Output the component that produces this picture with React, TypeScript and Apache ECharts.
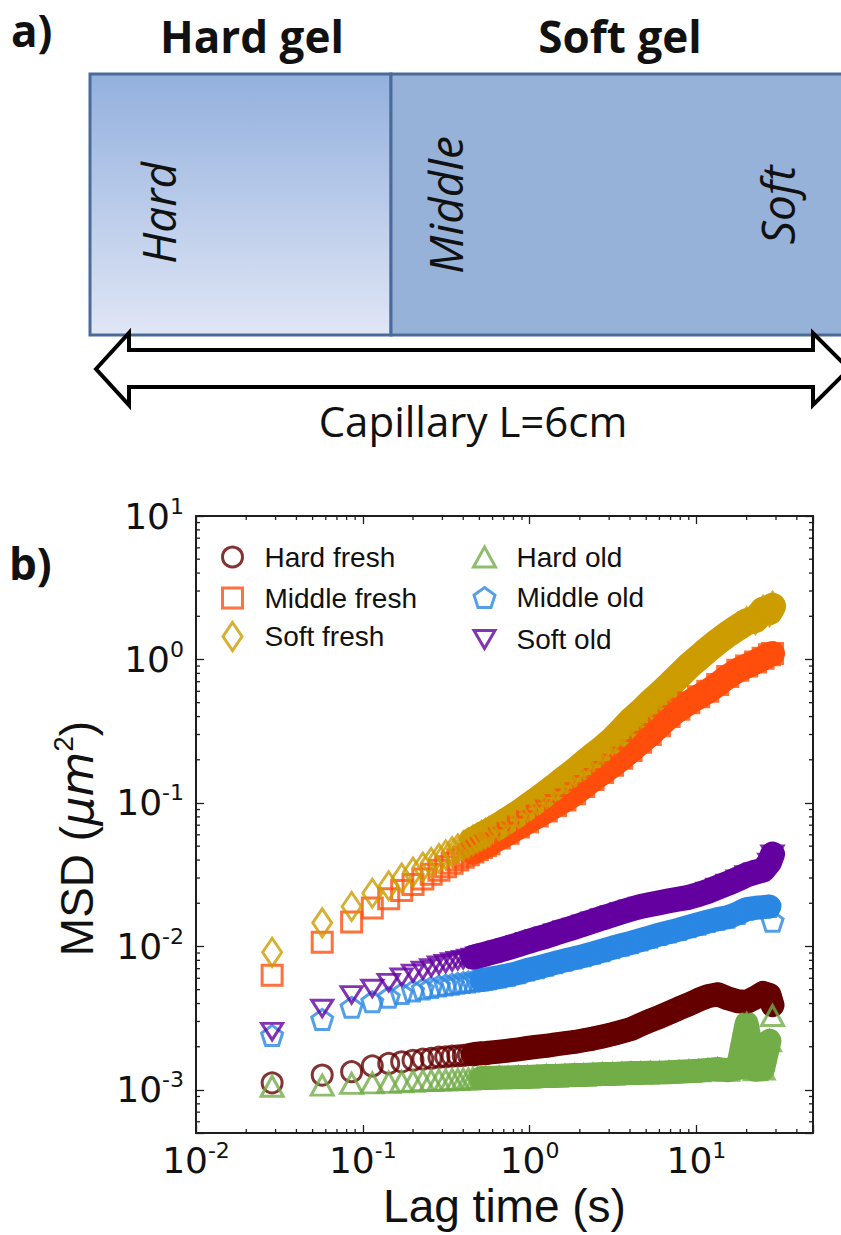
import React, { useEffect, useRef } from "react";
import * as echarts from "echarts";

// Lag times (s) shared by every sample
const lagTime = [
  0.0286, 0.0571, 0.0857, 0.114, 0.143, 0.171, 0.2, 0.229, 0.257, 0.286,
  0.314, 0.343, 0.371, 0.4, 0.429, 0.457, 0.486, 0.514, 0.543, 0.571,
  0.657, 0.743, 0.857, 0.971, 1.11, 1.26, 1.43, 1.63, 1.86, 2.11,
  2.4, 2.74, 3.14, 3.57, 4.06, 4.63, 5.29, 6.0, 6.86, 7.86,
  9.0, 10.3, 11.7, 13.4, 15.4, 17.7, 20.0, 22.6, 25.1, 27.4, 28.6,
];

// MSD (µm²) per sample
const hardFresh = [
  1.12e-3, 1.27e-3, 1.34e-3, 1.47e-3, 1.53e-3, 1.57e-3, 1.61e-3, 1.64e-3, 1.66e-3, 1.69e-3,
  1.7e-3, 1.72e-3, 1.73e-3, 1.74e-3, 1.76e-3, 1.77e-3, 1.79e-3, 1.8e-3, 1.8e-3, 1.82e-3,
  1.85e-3, 1.88e-3, 1.92e-3, 1.96e-3, 2.0e-3, 2.03e-3, 2.08e-3, 2.12e-3, 2.16e-3, 2.22e-3,
  2.28e-3, 2.36e-3, 2.45e-3, 2.55e-3, 2.66e-3, 2.85e-3, 3.05e-3, 3.22e-3, 3.45e-3, 3.7e-3,
  3.95e-3, 4.25e-3, 4.5e-3, 4.65e-3, 4.35e-3, 4.15e-3, 4.1e-3, 4.4e-3, 4.75e-3, 4.6e-3, 3.9e-3,
];
const middleFresh = [
  6.3e-3, 1.07e-2, 1.48e-2, 1.85e-2, 2.15e-2, 2.45e-2, 2.7e-2, 2.95e-2, 3.18e-2, 3.4e-2,
  3.6e-2, 3.8e-2, 4.0e-2, 4.18e-2, 4.36e-2, 4.55e-2, 4.72e-2, 4.9e-2, 5.05e-2, 5.2e-2,
  5.7e-2, 6.15e-2, 6.8e-2, 7.4e-2, 8.1e-2, 8.8e-2, 9.6e-2, 0.105, 0.116, 0.13,
  0.146, 0.163, 0.183, 0.205, 0.232, 0.265, 0.3, 0.345, 0.4, 0.45,
  0.5, 0.55, 0.6, 0.67, 0.76, 0.84, 0.9, 0.96, 1.02, 1.08, 1.1,
];
const softFresh = [
  9.1e-3, 1.46e-2, 1.9e-2, 2.35e-2, 2.65e-2, 3.0e-2, 3.3e-2, 3.58e-2, 3.85e-2, 4.1e-2,
  4.35e-2, 4.58e-2, 4.8e-2, 5.02e-2, 5.25e-2, 5.48e-2, 5.7e-2, 5.92e-2, 6.12e-2, 6.32e-2,
  6.95e-2, 7.6e-2, 8.45e-2, 9.4e-2, 0.105, 0.117, 0.131, 0.148, 0.166, 0.188,
  0.212, 0.24, 0.275, 0.32, 0.375, 0.43, 0.5, 0.57, 0.66, 0.77,
  0.9, 1.03, 1.17, 1.33, 1.5, 1.67, 1.83, 1.9, 2.2, 2.15, 2.35,
];
const hardOld = [
  1.06e-3, 1.08e-3, 1.11e-3, 1.12e-3, 1.13e-3, 1.14e-3, 1.15e-3, 1.16e-3, 1.16e-3, 1.17e-3,
  1.17e-3, 1.18e-3, 1.18e-3, 1.19e-3, 1.19e-3, 1.2e-3, 1.2e-3, 1.21e-3, 1.21e-3, 1.21e-3,
  1.22e-3, 1.22e-3, 1.23e-3, 1.23e-3, 1.24e-3, 1.25e-3, 1.25e-3, 1.26e-3, 1.27e-3, 1.27e-3,
  1.28e-3, 1.29e-3, 1.29e-3, 1.3e-3, 1.31e-3, 1.31e-3, 1.32e-3, 1.32e-3, 1.33e-3, 1.34e-3,
  1.35e-3, 1.36e-3, 1.38e-3, 1.4e-3, 1.37e-3, 1.42e-3, 2.9e-3, 1.38e-3, 1.4e-3, 2.2e-3, 3.3e-3,
];
const middleOld = [
  2.4e-3, 3.1e-3, 3.77e-3, 4.12e-3, 4.42e-3, 4.7e-3, 4.9e-3, 5.05e-3, 5.18e-3, 5.3e-3,
  5.38e-3, 5.46e-3, 5.53e-3, 5.6e-3, 5.66e-3, 5.72e-3, 5.78e-3, 5.84e-3, 5.9e-3, 5.95e-3,
  6.12e-3, 6.3e-3, 6.55e-3, 6.85e-3, 7.1e-3, 7.4e-3, 7.7e-3, 8.0e-3, 8.3e-3, 8.6e-3,
  8.95e-3, 9.35e-3, 9.8e-3, 1.02e-2, 1.06e-2, 1.11e-2, 1.16e-2, 1.21e-2, 1.26e-2, 1.31e-2,
  1.37e-2, 1.43e-2, 1.49e-2, 1.55e-2, 1.6e-2, 1.7e-2, 1.82e-2, 1.86e-2, 1.88e-2, 1.9e-2, 1.5e-2,
];
const softOld = [
  2.55e-3, 3.7e-3, 4.6e-3, 5.1e-3, 5.6e-3, 6.1e-3, 6.5e-3, 6.8e-3, 7.1e-3, 7.4e-3,
  7.6e-3, 7.8e-3, 7.95e-3, 8.1e-3, 8.25e-3, 8.4e-3, 8.55e-3, 8.7e-3, 8.85e-3, 9.0e-3,
  9.4e-3, 9.8e-3, 1.03e-2, 1.08e-2, 1.13e-2, 1.18e-2, 1.24e-2, 1.3e-2, 1.36e-2, 1.43e-2,
  1.5e-2, 1.58e-2, 1.66e-2, 1.74e-2, 1.82e-2, 1.9e-2, 1.96e-2, 2.02e-2, 2.08e-2, 2.14e-2,
  2.2e-2, 2.3e-2, 2.42e-2, 2.58e-2, 2.75e-2, 2.95e-2, 3.15e-2, 3.3e-2, 3.4e-2, 3.85e-2, 4.4e-2,
];

const seriesNames = ["Hard fresh", "Middle fresh", "Soft fresh", "Hard old", "Middle old", "Soft old"];
const seriesValues = [hardFresh, middleFresh, softFresh, hardOld, middleOld, softOld];
const seriesColors = ["#650000", "#ff4e0c", "#cc9c00", "#72ad47", "#2a87e4", "#6400a0"];

const PENTAGON = "path://M10.5,0L21,7.6L17,20L4,20L0,7.6Z";
const TRI_DOWN = "path://M0,0L22,0L11,19Z";
const seriesSymbols = ["circle", "rect", "diamond", "triangle", PENTAGON, TRI_DOWN];
const seriesSymbolSizes: (number | number[])[] = [20, 20, [19, 28], [22, 20], 21, [21, 19]];
// lag-time window (s) over which the marks merge into a continuous band, and that band's width
const bandFrom = [0.45, 0.45, 0.45, 0.5, 0.5, 0.45];
const bandUntil = [29, 29, 29, 28, 28, 29];
const bandWidth = [24, 25, 27, 24, 24, 25];

// axis ranges and tick values
const xMin = 0.01;
const xMax = 50;
const yMin = 0.000501;
const yMax = 10;
const xMinorTicks = [
  0.02, 0.03, 0.04, 0.05, 0.06, 0.07, 0.08, 0.09,
  0.2, 0.3, 0.4, 0.5, 0.6, 0.7, 0.8, 0.9,
  2, 3, 4, 5, 6, 7, 8, 9,
  20, 30, 40,
];
const yMinorTicks = [
  0.0006, 0.0007, 0.0008, 0.0009,
  0.002, 0.003, 0.004, 0.005, 0.006, 0.007, 0.008, 0.009,
  0.02, 0.03, 0.04, 0.05, 0.06, 0.07, 0.08, 0.09,
  0.2, 0.3, 0.4, 0.5, 0.6, 0.7, 0.8, 0.9,
  2, 3, 4, 5, 6, 7, 8, 9,
];

// legend layout: two columns of three rows
const legendColX = [231, 483];
const legendRowY = [553, 594, 635];
const legendTextX = [263, 515];

const FRAME = "#1e1e1e";

function powerLabel(v: number): string {
  const e = Math.round(Math.log10(v));
  if (Math.abs(Math.log10(v) - e) > 1e-6) return "";
  return "10{s|" + e + "}";
}

function buildOption() {
  const series: any[] = [];

  // minor ticks on the bottom and top edges
  series.push({
    type: "custom",
    silent: true,
    xAxisIndex: 0,
    yAxisIndex: 0,
    data: xMinorTicks.map((v) => [v, yMin]),
    renderItem: (_p: any, api: any) => {
      const v = api.value(0);
      const b = api.coord([v, yMin]);
      const t = api.coord([v, yMax]);
      return {
        type: "group",
        children: [
          { type: "line", shape: { x1: b[0], y1: b[1], x2: b[0], y2: b[1] - 4 }, style: { stroke: FRAME, lineWidth: 1.3 } },
          { type: "line", shape: { x1: t[0], y1: t[1], x2: t[0], y2: t[1] + 4 }, style: { stroke: FRAME, lineWidth: 1.3 } },
        ],
      };
    },
  });
  // minor ticks on the left and right edges
  series.push({
    type: "custom",
    silent: true,
    xAxisIndex: 0,
    yAxisIndex: 0,
    data: yMinorTicks.map((v) => [xMin, v]),
    renderItem: (_p: any, api: any) => {
      const v = api.value(1);
      const l = api.coord([xMin, v]);
      const r = api.coord([xMax, v]);
      return {
        type: "group",
        children: [
          { type: "line", shape: { x1: l[0], y1: l[1], x2: l[0] + 4, y2: l[1] }, style: { stroke: FRAME, lineWidth: 1.3 } },
          { type: "line", shape: { x1: r[0], y1: r[1], x2: r[0] - 4, y2: r[1] }, style: { stroke: FRAME, lineWidth: 1.3 } },
        ],
      };
    },
  });

  seriesNames.forEach((name, i) => {
    const pts = lagTime.map((t, k) => [t, seriesValues[i][k]]);
    const dense = pts.filter((p) => p[0] >= bandFrom[i] && p[0] <= bandUntil[i]);
    series.push({
      name: name + " (dense)",
      type: "line",
      xAxisIndex: 0,
      yAxisIndex: 0,
      data: dense,
      showSymbol: false,
      silent: true,
      lineStyle: { color: seriesColors[i], width: bandWidth[i], cap: "round", join: "round" },
      z: 2,
    });
    series.push({
      name,
      type: "scatter",
      xAxisIndex: 0,
      yAxisIndex: 0,
      data: pts,
      symbol: seriesSymbols[i],
      symbolSize: seriesSymbolSizes[i],
      symbolKeepAspect: true,
      silent: true,
      itemStyle: { color: "rgba(0,0,0,0)", borderColor: seriesColors[i], borderWidth: 3 },
      z: 3,
    });
  });

  const legends = seriesNames.map((name, i) => {
    const col = i < 3 ? 0 : 1;
    const row = i % 3;
    const sz = seriesSymbolSizes[i];
    const w = Array.isArray(sz) ? sz[0] : (sz as number);
    const h = Array.isArray(sz) ? sz[1] : (sz as number);
    return {
      data: [
        {
          name,
          icon: seriesSymbols[i],
          itemStyle: { color: "rgba(0,0,0,0)", borderColor: seriesColors[i], borderWidth: 3 },
        },
      ],
      left: legendColX[col] - w / 2,
      top: legendRowY[row] - h / 2,
      itemWidth: w,
      itemHeight: h,
      padding: 0,
      selectedMode: false,
      textStyle: {
        fontSize: 28,
        fontFamily: "Liberation Sans",
        color: "#111",
        padding: [0, 0, 0, legendTextX[col] - (legendColX[col] + w / 2) - 5],
      },
    };
  });

  const labelRich = {
    s: { fontSize: 22, lineHeight: 22, verticalAlign: "top", fontFamily: "DejaVu Sans", color: "#111" },
  };

  const axisCommon = {
    type: "log",
    logBase: 10,
    axisLine: { show: true, lineStyle: { color: FRAME, width: 2 } },
    axisTick: { show: true, inside: true, length: 8, lineStyle: { color: FRAME, width: 1.3 } },
    splitLine: { show: false },
    minorTick: { show: false },
  };

  const italic = { fontSize: 46, fontStyle: "italic", fontFamily: "Open Sans", fill: "#111", align: "center", verticalAlign: "middle" };
  const heading = { fontSize: 44, fontWeight: "bold", fontFamily: "Open Sans", fill: "#111", verticalAlign: "middle" };

  const graphic = [
    // panel a: capillary drawing
    {
      type: "rect",
      shape: { x: 90, y: 74, width: 301, height: 261 },
      style: {
        fill: {
          type: "linear", x: 0, y: 0, x2: 0, y2: 1,
          colorStops: [{ offset: 0, color: "#93b0de" }, { offset: 1, color: "#e0e6f5" }],
        },
        stroke: "#4a6b9a",
        lineWidth: 3,
      },
    },
    {
      type: "rect",
      shape: { x: 391, y: 74, width: 480, height: 261 },
      style: { fill: "#96b2d8", stroke: "#4a6b9a", lineWidth: 3 },
    },
    { type: "text", x: 158, y: 213, rotation: Math.PI / 2, style: { ...italic, text: "Hard" } },
    { type: "text", x: 445, y: 205, rotation: Math.PI / 2, style: { ...italic, text: "Middle" } },
    { type: "text", x: 777, y: 205, rotation: Math.PI / 2, style: { ...italic, text: "Soft" } },
    {
      type: "polygon",
      shape: {
        points: [
          [96, 369], [129, 333], [129, 350], [813, 350], [813, 333], [849, 369],
          [813, 405], [813, 387], [129, 387], [129, 405],
        ],
      },
      style: { fill: "#fff", stroke: "#000", lineWidth: 4, lineJoin: "miter" },
    },
    {
      type: "text", x: 473, y: 420,
      style: { text: "Capillary L=6cm", fontSize: 42, fontFamily: "Open Sans", fill: "#111", align: "center", verticalAlign: "middle" },
    },
    { type: "text", x: 11, y: 30, style: { ...heading, text: "a)", align: "left" } },
    { type: "text", x: 252, y: 36, style: { ...heading, text: "Hard gel", align: "center" } },
    { type: "text", x: 620, y: 36, style: { ...heading, text: "Soft gel", align: "center" } },
    // panel b tag
    { type: "text", x: 9, y: 563, style: { ...heading, text: "b)", align: "left" } },
  ];

  return {
    animation: false,
    backgroundColor: "#ffffff",
    grid: { left: 196, right: 28, top: 516, bottom: 102, containLabel: false },
    xAxis: [
      {
        ...axisCommon,
        min: xMin,
        max: xMax,
        position: "bottom",
        axisLabel: {
          formatter: powerLabel,
          fontSize: 36,
          lineHeight: 42,
          fontFamily: "DejaVu Sans",
          color: "#111",
          margin: 6,
          rich: labelRich,
        },
        name: "Lag time (s)",
        nameLocation: "middle",
        nameGap: 50,
        nameTextStyle: { fontSize: 46, fontFamily: "Liberation Sans", color: "#111" },
      },
      {
        ...axisCommon,
        min: xMin,
        max: xMax,
        position: "top",
        axisLabel: { show: false },
      },
    ],
    yAxis: [
      {
        ...axisCommon,
        min: yMin,
        max: yMax,
        position: "left",
        axisLabel: {
          formatter: powerLabel,
          fontSize: 36,
          lineHeight: 42,
          fontFamily: "DejaVu Sans",
          color: "#111",
          margin: 12,
          rich: labelRich,
        },
        name: "MSD ({i|μm}{s|2})",
        nameLocation: "middle",
        nameRotate: 90,
        nameGap: 84,
        nameTextStyle: {
          fontSize: 46,
          lineHeight: 56,
          fontFamily: "Liberation Sans",
          color: "#111",
          padding: [0, 28, 0, 0],
          rich: {
            i: { fontSize: 46, lineHeight: 56, fontStyle: "italic", fontFamily: "DejaVu Sans", color: "#111" },
            s: { fontSize: 28, lineHeight: 28, verticalAlign: "top", fontFamily: "Liberation Sans", color: "#111" },
          },
        },
      },
      {
        ...axisCommon,
        min: yMin,
        max: yMax,
        position: "right",
        axisLabel: { show: false },
      },
    ],
    legend: legends,
    series,
    graphic,
  };
}

export default function App() {
  const ref = useRef<HTMLDivElement>(null);
  useEffect(() => {
    document.body.style.margin = "0";
    if (!ref.current) return;
    const chart = echarts.init(ref.current, null, { renderer: "svg" });
    chart.setOption(buildOption() as any);
    return () => chart.dispose();
  }, []);
  return <div ref={ref} style={{ width: 841, height: 1235, background: "#fff" }} />;
}
